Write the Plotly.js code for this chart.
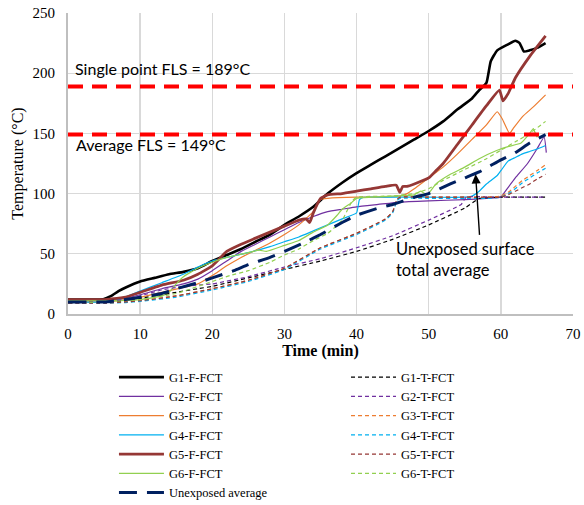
<!DOCTYPE html>
<html>
<head>
<meta charset="utf-8">
<script src="https://cdn.plot.ly/plotly-3.0.1.min.js"></script>
<style>html,body{margin:0;padding:0;background:#fff;}#chart{width:584px;height:505px;}</style>
</head>
<body>
<div id="chart"></div>
<script>
// ---- data ----
const g1fT = [0,4,5,6,7,8,10,12,14,16,18,20,22,24,26,28,30,32,34,36,38,40,42,44,46,48,50,52,54,56,57,58,58.6,59.5,61,62,62.6,63.2,64,65,66.2];
const g1fV = [12,12,12.5,15,19,22,27,30,33,35,38,44,49,54,60,66,74,81,89,100,109,117,124,131,138,145,152,160,170,179,186,192,210,219,224,227,225,218,219,221,225];

const g2fT = [0,5,7,10,13,16,18,20,22,24,26,28,30,32,34,36,38,40,43,46,50,55,58,60,60.5,62,63.7,65,66,66.3];
const g2fV = [11,11,12,16,21,25,29,36,44,52,58,64,70,76,81,85,87,89,91,93,94,95,96,97,101,113,125,137,147,134];

const g3fT = [0,5,7,10,13,16,18,20,22,24,26,28,30,32,34,35,36,40,44,46,47,48,50,52,54,56,58,59.5,60.2,61.2,61.7,63,64.5,66.2];
const g3fV = [10,10,11,14,18,22,25,32,40,47,53,59,66,74,85,95,96,97,97,98,100,104,113,122,133,145,157,168,162,150,154,164,172,182];

const g4fT = [0,5,7,10,13,16,18,20,22,25,28,30,32,34,36,38,40,40.4,41,45,50,55,56,57,58,59.5,60,61,62,63,64,65,66.2];
const g4fV = [10,10,12,19,26,33,39,44,47,51,56,60,64,69,74,79,84,95,97,97,97,97,98,102,108,115,119,127,130,133,135,137,140];

const g5fT = [0,5,6,8,10,13,16,18,20,21,22,24,26,28,30,32,33,33.5,34,35,36,38,40,42,44,45.5,46,46.4,47,48,50,51,52,54,56,58,59.8,60.3,61,62,64,66.2];
const g5fV = [12,12,12.5,14,18,24,28,33,40,46,52,58,63,68,73,78,79,76,84,96,99,100,102,104,106,107,101,106,106,108,113,119,125,141,157,173,186,177,183,196,214,231];

const g6fT = [0,5,10,13,14,15,16,18,20,22,25,26.5,27.5,30,32,34,36,37.3,38,39.2,40,42,45,48,48.9,49.8,51,53,55,57,59.5,61,62.8,64,64.5,65,65.3];
const g6fV = [11,11,12,15,18,25,31,38,43,47,51,53,52,57,61,68,74,82,87,92,96,97,98,99,102,99,108,116,122,129,136,139,142,150,154,147,149];

const g1tT = [0,5,8,10,13,15,18,20,25,30,35,40,45,50,55,57,60,66.2];
const g1tV = [10,10,11,13,16,18,21,23,30,37,44,52,62,74,88,96,97,97];

const g2tT = [0,5,8,10,13,15,18,20,25,30,35,40,45,50,54.5,55.2,60,66.2];
const g2tV = [10,10,12,15,20,22,24,25,31,39,46,55,65,78,91,97,97,97];

const g3tT = [0,5,8,10,15,20,25,30,35,40,44,45,45.6,46,50,55,58,60,61,62,63,64,65,66.2];
const g3tV = [9,9,10,11,15,21,28,38,55,67,79,85,95,97,97,97,97,98,101,106,111,115,119,124];

const g4tT = [0,5,8,10,15,20,25,30,35,40,44,45,45.6,46,50,55,58,60,61,62,63,64,65,66.2];
const g4tV = [9,9,9.5,10.5,14,20,27,37,54,66,78,84,94,96,96,96,96,97,100,104,109,113,117,121];

const g5tT = [0,5,8,10,15,20,25,30,35,40,44,45,45.6,46,50,55,58,60,61,62,63,64,65,66.2];
const g5tV = [9,9,10,11,15,21,28,38,55,67,79,85,95,97,97,97,97,97,99,102,105,108,112,116];

const g6tT = [0,5,10,15,20,22.5,25,28,30,32,34,36,38,39.4,40,45,48,50,52,55,58,60,62,64,66.2];
const g6tV = [10,10,12,17,27,32,36,43,49,54,61,67,78,94,97,98,100,104,111,120,129,136,143,150,160];

const avgT = [0,5,8,10,13,15,18,20,23,25,28,30,33,35,38,40,43,45,48,50,53,55,57,60,62,64,66.2];
const avgV = [10,10,12,14,17,21,26,30,36,41,47,52,60,66,76,82,88,91,97,100,108,113,118,128,134,142,149];

const flsValues = [189, 149];
const flsLabels = ['Single point FLS = 189°C', 'Average FLS = 149°C'];

const xTicks = [0,10,20,30,40,50,60,70];
const yTicks = [0,50,100,150,200,250];

// ---- styles ----
const COL = {g1:'#000000', g2:'#7030A0', g3:'#ED7D31', g4:'#00B0F0', g5:'#953735', g6:'#92D050', avg:'#002060'};

function tr(name, x, y, color, width, dash, leg){
  return {type:'scatter', mode:'lines', name:name, x:x, y:y,
    line:{color:color, width:width, dash:dash, shape:'spline', smoothing:0.4},
    legend:leg, hoverinfo:'skip'};
}
const SD = '4px,3px';
const traces = [
  tr('G1-F-FCT', g1fT, g1fV, COL.g1, 2.6, 'solid', 'legend'),
  tr('G2-F-FCT', g2fT, g2fV, COL.g2, 1.2, 'solid', 'legend'),
  tr('G3-F-FCT', g3fT, g3fV, COL.g3, 1.2, 'solid', 'legend'),
  tr('G4-F-FCT', g4fT, g4fV, COL.g4, 1.2, 'solid', 'legend'),
  tr('G5-F-FCT', g5fT, g5fV, COL.g5, 2.8, 'solid', 'legend'),
  tr('G6-F-FCT', g6fT, g6fV, COL.g6, 1.2, 'solid', 'legend'),
  tr('G1-T-FCT', g1tT, g1tV, COL.g1, 1.2, SD, 'legend2'),
  tr('G2-T-FCT', g2tT, g2tV, COL.g2, 1.2, SD, 'legend2'),
  tr('G3-T-FCT', g3tT, g3tV, COL.g3, 1.2, SD, 'legend2'),
  tr('G4-T-FCT', g4tT, g4tV, COL.g4, 1.2, SD, 'legend2'),
  tr('G5-T-FCT', g5tT, g5tV, COL.g5, 1.2, SD, 'legend2'),
  tr('G6-T-FCT', g6tT, g6tV, COL.g6, 1.2, SD, 'legend2'),
  tr('Unexposed average', avgT, avgV, COL.avg, 3, '18px,10px', 'legend')
];

const shapes = flsValues.map(v => ({type:'line', xref:'paper', x0:0, x1:1, yref:'y', y0:v, y1:v,
  line:{color:'#FF0000', width:4, dash:'15px,9px'}, layer:'above'}));

const annFont = {family:'Lato, "Open Sans", sans-serif', size:16, color:'#000'};
const annFont2 = {family:'Lato, "Open Sans", sans-serif', size:16.5, color:'#000'};
const annotations = [
  {x:0.7, y:flsValues[0]+15, xref:'x', yref:'y', text:flsLabels[0], showarrow:false, xanchor:'left', yanchor:'middle', font:annFont},
  {x:0.9, y:flsValues[1]-8, xref:'x', yref:'y', text:flsLabels[1], showarrow:false, xanchor:'left', yanchor:'middle', font:annFont},
  {x:45.2, y:45, xref:'x', yref:'y', text:'Unexposed surface<br>total average', showarrow:false, xanchor:'left', yanchor:'middle', align:'left', font:annFont2},
  {x:56.5, y:116, xref:'x', yref:'y', text:'', showarrow:true, ax:4, ay:62, arrowhead:2, arrowsize:1.3, arrowwidth:1.4, arrowcolor:'#000'}
];

const serif = '"Liberation Serif", "Times New Roman", serif';
const legFont = {family:serif, size:12.5, color:'#000'};
const layout = {
  width:584, height:505,
  margin:{l:68, r:11, t:13, b:191, autoexpand:false},
  paper_bgcolor:'#fff', plot_bgcolor:'#fff',
  font:{family:serif, size:15, color:'#000'},
  xaxis:{range:[0,70], tickvals:xTicks, ticktext:xTicks.map(String), showgrid:true, gridcolor:'#d9d9d9', gridwidth:1.3,
    zeroline:false, showline:true, linecolor:'#bfbfbf', linewidth:2,
    ticks:'outside', ticklen:5, tickcolor:'rgba(0,0,0,0)', tickfont:{family:serif, size:15},
    title:{text:'<b>Time (min)</b>', font:{family:serif, size:16}, standoff:2}, automargin:false},
  yaxis:{range:[0,250], tickvals:yTicks, ticktext:yTicks.map(String), showgrid:true, gridcolor:'#d9d9d9', gridwidth:1.3,
    zeroline:false, showline:true, linecolor:'#bfbfbf', linewidth:2,
    ticks:'outside', ticklen:8, tickcolor:'rgba(0,0,0,0)', tickfont:{family:serif, size:15},
    title:{text:'Temperature (°C)', font:{family:serif, size:16}, standoff:5}, automargin:false},
  showlegend:true,
  legend:{orientation:'v', x:0.091, y:-0.161, xanchor:'left', yanchor:'top', itemwidth:45,
    font:legFont, traceorder:'normal', bgcolor:'rgba(0,0,0,0)', tracegroupgap:0},
  legend2:{orientation:'v', x:0.5505, y:-0.161, xanchor:'left', yanchor:'top', itemwidth:45,
    font:legFont, traceorder:'normal', bgcolor:'rgba(0,0,0,0)', tracegroupgap:0},
  shapes:shapes, annotations:annotations
};

Plotly.newPlot('chart', traces, layout, {displayModeBar:false, staticPlot:true});
</script>
</body>
</html>
